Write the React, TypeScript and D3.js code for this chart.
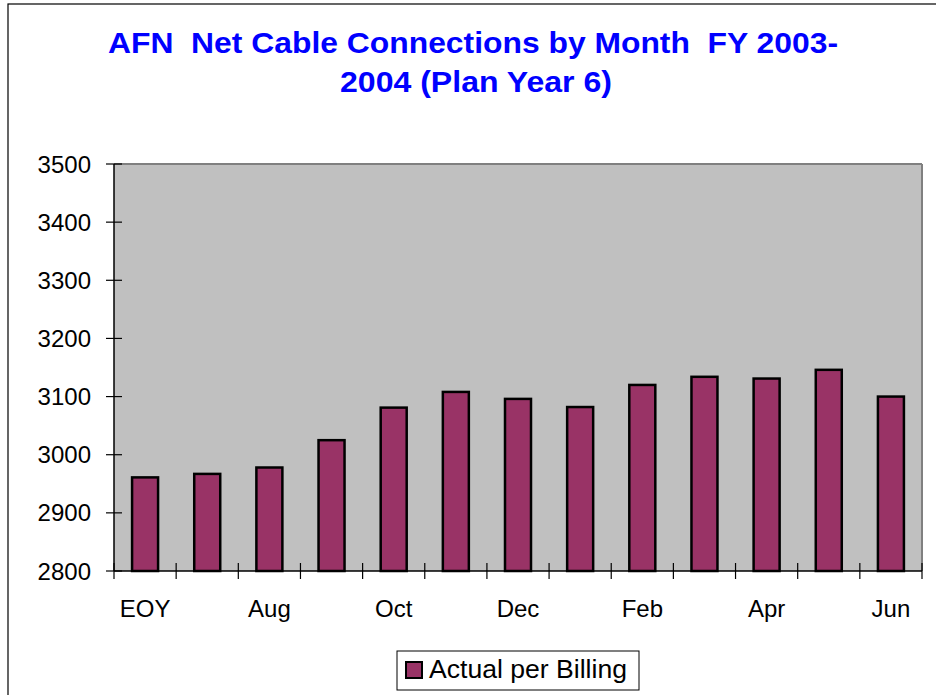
import React from "react";
import * as d3 from "d3";

const months = ["EOY", "Jul", "Aug", "Sep", "Oct", "Nov", "Dec", "Jan", "Feb", "Mar", "Apr", "May", "Jun"];
const actual = [2961, 2967, 2978, 3025, 3081, 3108, 3096, 3082, 3120, 3134, 3131, 3146, 3100];
const yTicks = [2800, 2900, 3000, 3100, 3200, 3300, 3400, 3500];
const shownLabels = ["EOY", "Aug", "Oct", "Dec", "Feb", "Apr", "Jun"];

export default function App() {
  const W = 936, H = 695;
  const L = 114, R = 922, T = 164, B = 571;
  const x = d3.scaleBand<string>().domain(months).range([L, R]).paddingInner(0).paddingOuter(0);
  const y = d3.scaleLinear().domain([2800, 3500]).range([B, T]);
  const bw = 26;
  const font = "'Liberation Sans', Arial, sans-serif";
  const bounds = [...months.map((m) => x(m)!), R];

  return (
    <svg width={W} height={H} style={{ position: "absolute", left: 0, top: 0, fontFamily: font }}>
      <rect x={0} y={0} width={W} height={H} fill="#fff" />
      <rect x={8} y={4} width={W + 10} height={H + 10} fill="none" stroke="#000" strokeWidth={1.2} />
      <text x={473} y={53} textAnchor="middle" fill="#0000FF" fontWeight="bold" fontSize={30} textLength={730} lengthAdjust="spacingAndGlyphs" style={{ whiteSpace: "pre" }}>
        {"AFN  Net Cable Connections by Month  FY 2003-"}
      </text>
      <text x={476} y={92} textAnchor="middle" fill="#0000FF" fontWeight="bold" fontSize={30} textLength={272} lengthAdjust="spacingAndGlyphs" style={{ whiteSpace: "pre" }}>
        {"2004 (Plan Year 6)"}
      </text>
      <rect x={L} y={T} width={R - L} height={B - T} fill="#C0C0C0" />
      <line x1={L} x2={R} y1={T} y2={T} stroke="#808080" strokeWidth={2} />
      <line x1={R} x2={R} y1={T} y2={B} stroke="#808080" strokeWidth={2} />
      {actual.map((v, i) => {
        const cx = x(months[i])! + x.bandwidth() / 2;
        return (
          <rect key={i} x={cx - bw / 2} y={y(v)} width={bw} height={B - y(v)} fill="#993366" stroke="#000" strokeWidth={2.5} />
        );
      })}
      <line x1={L} x2={L} y1={T} y2={B} stroke="#000" strokeWidth={1.5} />
      <line x1={L} x2={R} y1={B} y2={B} stroke="#000" strokeWidth={1.5} />
      {yTicks.map((t) => (
        <g key={t}>
          <line x1={L - 8} x2={L + 8} y1={y(t)} y2={y(t)} stroke="#000" strokeWidth={1.2} />
          <text x={91} y={y(t) + 8.5} textAnchor="end" fontSize={24} fill="#000">{t}</text>
        </g>
      ))}
      {bounds.map((bx, i) => (
        <line key={i} x1={bx} x2={bx} y1={B - 8} y2={B + 8} stroke="#000" strokeWidth={1.2} />
      ))}
      {months.map((m) =>
        shownLabels.includes(m) ? (
          <text key={m} x={x(m)! + x.bandwidth() / 2} y={617} textAnchor="middle" fontSize={24} fill="#000">{m}</text>
        ) : null
      )}
      <rect x={397} y={651} width={242} height={39} fill="#fff" stroke="#000" strokeWidth={1} />
      <rect x={406} y={662} width={16} height={16} fill="#993366" stroke="#000" strokeWidth={2} />
      <text x={429} y={678} fontSize={26} fill="#000" textLength={198} lengthAdjust="spacingAndGlyphs">Actual per Billing</text>
    </svg>
  );
}
